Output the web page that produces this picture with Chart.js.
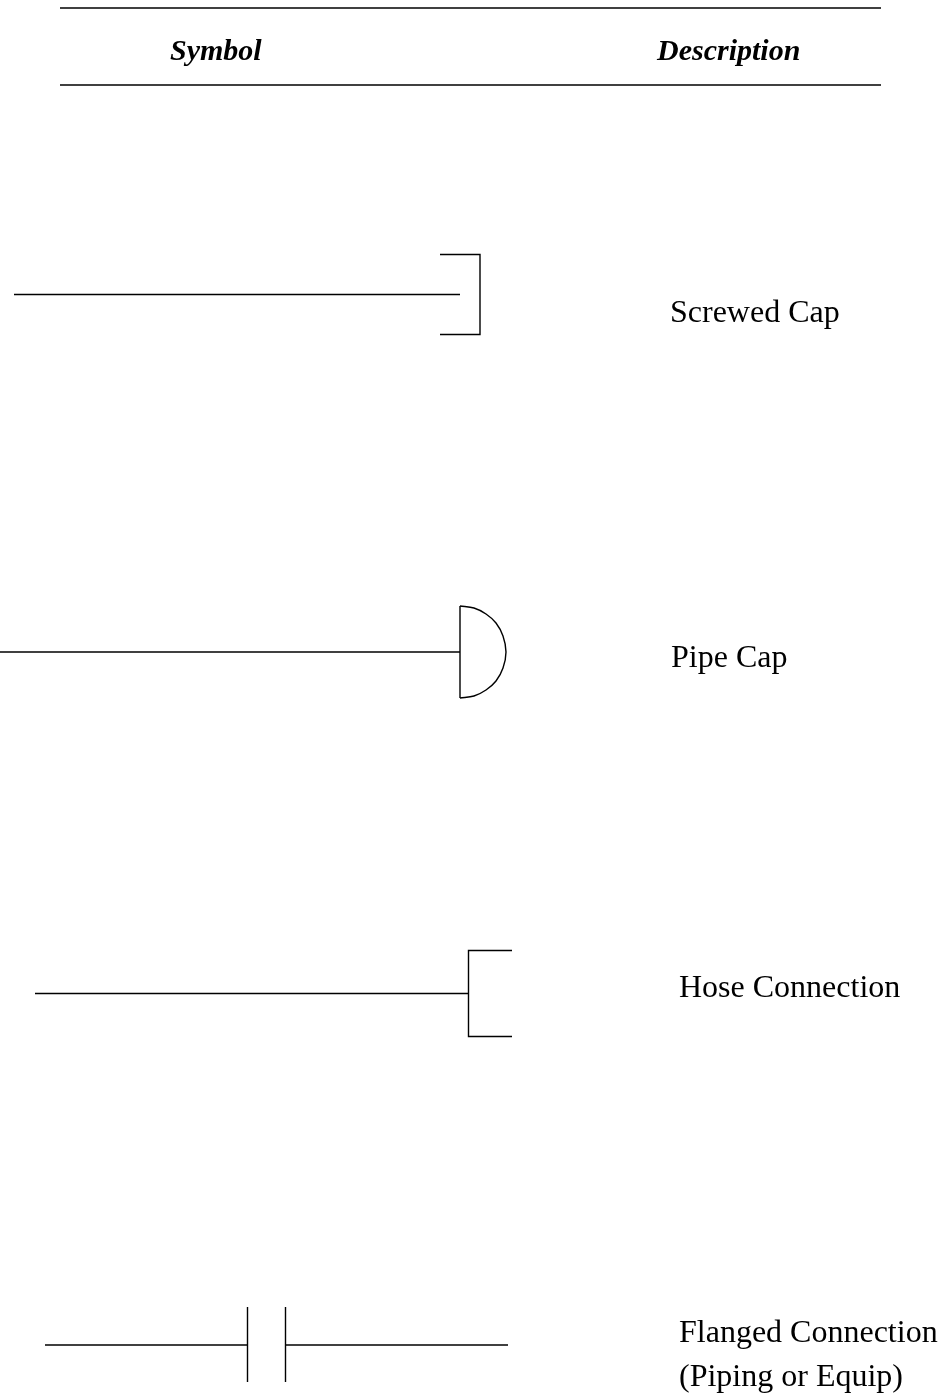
<!DOCTYPE html>
<html>
<head>
<meta charset="utf-8">
<title>Symbol / Description</title>
<script src="https://cdn.jsdelivr.net/npm/chart.js@4"></script>
<style>
    html, body { margin: 0; padding: 0; background: #fff; }
    #wrap { width: 945px; height: 1396px; }
    canvas { display: block; }
</style>
</head>
<body>
<div id="wrap"><canvas id="symbolChart"></canvas></div>
<script>
// header rules
const ruleTop = [[60, 8], [881, 8]];
const ruleBottom = [[60, 85], [881, 85]];

// screwed cap
const screwedPipe = [[14, 294.5], [460, 294.5]];
const screwedCap = [[440, 254.5], [480, 254.5], [480, 334.5], [440, 334.5]];

// pipe cap
const capPipe = [[0, 652], [460, 652]];
const capBack = [[460, 606], [460, 698]];
const capDome = [[460, 606], [474, 608], [486, 614], [496, 623], [503, 636], [506, 652], [503, 668], [496, 681], [486, 690], [474, 696], [460, 698]];

// hose connection
const hosePipe = [[35, 993.5], [468, 993.5]];
const hoseBracket = [[512, 950.5], [468.5, 950.5], [468.5, 1036.5], [512, 1036.5]];

// flanged connection
const flangePipeLeft = [[45, 1345], [247, 1345]];
const flangePipeRight = [[285, 1345], [508, 1345]];
const flangeLeft = [[247.5, 1307], [247.5, 1382]];
const flangeRight = [[285.5, 1307], [285.5, 1382]];

const straightSegments = [ruleTop, ruleBottom, screwedPipe, screwedCap, capPipe, capBack, hosePipe, hoseBracket, flangePipeLeft, flangePipeRight, flangeLeft, flangeRight];

// texts, x / baseline y
const headerLabels = ['Symbol', 'Description'];
const headerX = [170, 657];
const headerY = [60, 60];
const descLabels = ['Screwed Cap', 'Pipe Cap', 'Hose Connection', 'Flanged Connection', '(Piping or Equip)'];
const descX = [670, 671, 679, 679, 679];
const descY = [322, 667, 997, 1342, 1386];

const toPoints = pts => pts.map(p => ({ x: p[0], y: p[1] }));

const datasets = straightSegments.map(seg => ({
    data: toPoints(seg),
    showLine: true,
    borderColor: '#000',
    borderWidth: 1.4,
    pointRadius: 0,
    tension: 0
}));
datasets.push({
    data: toPoints(capDome),
    showLine: true,
    borderColor: '#000',
    borderWidth: 1.4,
    pointRadius: 0,
    tension: 0.35
});

// labels go through the same scales as the lines
const textPlugin = {
    id: 'symbolText',
    afterDraw(chart) {
        const { ctx, scales: { x, y } } = chart;
        ctx.save();
        ctx.fillStyle = '#000';
        ctx.textBaseline = 'alphabetic';
        ctx.textAlign = 'left';
        ctx.font = "italic bold 30px 'Liberation Serif', serif";
        headerLabels.forEach((t, i) => ctx.fillText(t, x.getPixelForValue(headerX[i]), y.getPixelForValue(headerY[i])));
        ctx.font = "32px 'Liberation Serif', serif";
        descLabels.forEach((t, i) => ctx.fillText(t, x.getPixelForValue(descX[i]), y.getPixelForValue(descY[i])));
        ctx.restore();
    }
};

new Chart(document.getElementById('symbolChart'), {
    type: 'scatter',
    data: { datasets },
    plugins: [textPlugin],
    options: {
        responsive: true,
        maintainAspectRatio: false,
        animation: false,
        layout: { padding: 0 },
        plugins: { legend: { display: false }, tooltip: { enabled: false } },
        scales: {
            x: { type: 'linear', min: 0, max: 945, display: false },
            y: { type: 'linear', min: 0, max: 1396, reverse: true, display: false }
        }
    }
});
</script>
</body>
</html>
